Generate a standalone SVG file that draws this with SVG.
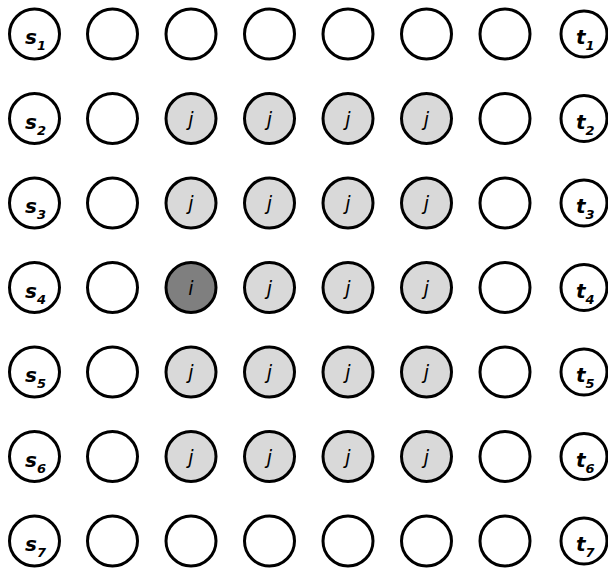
<svg xmlns="http://www.w3.org/2000/svg" width="608" height="568" viewBox="0 0 608 568">
<style>
.n{stroke:#000;stroke-width:3;fill:#fff}
.j{fill:#d9d9d9}
.i{fill:#7f7f7f}
.lb{font-family:"DejaVu Sans",Verdana,sans-serif;font-weight:bold;font-style:italic;font-size:20px;fill:#000}
.sub{font-size:13px}
.lj{font-family:"DejaVu Sans",Verdana,sans-serif;font-style:italic;font-size:19px;fill:#000;text-anchor:middle}
</style>
<rect width="608" height="568" fill="#fff"/>
<g id="connectors"/>
<!-- row 1 -->
<g id="s1"><circle class="n" cx="34.5" cy="34" r="25"/><text class="lb" x="25" y="44">s<tspan class="sub" dy="6">1</tspan></text></g>
<g id="n1_1"><circle class="n" cx="112.5" cy="34" r="25"/></g>
<g id="n1_2"><circle class="n" cx="191" cy="34" r="25"/></g>
<g id="n1_3"><circle class="n" cx="269.5" cy="34" r="25"/></g>
<g id="n1_4"><circle class="n" cx="348" cy="34" r="25"/></g>
<g id="n1_5"><circle class="n" cx="426.5" cy="34" r="25"/></g>
<g id="n1_6"><circle class="n" cx="505" cy="34" r="25"/></g>
<g id="t1"><circle class="n" cx="584" cy="34" r="23"/><text class="lb" x="576" y="44">t<tspan class="sub" dy="6">1</tspan></text></g>
<!-- row 2 -->
<g id="s2"><circle class="n" cx="34.5" cy="118.5" r="25"/><text class="lb" x="25" y="128.5">s<tspan class="sub" dy="6">2</tspan></text></g>
<g id="n2_1"><circle class="n" cx="112.5" cy="118.5" r="25"/></g>
<g id="n2_2"><circle class="n j" cx="191" cy="118.5" r="25"/><text class="lj" x="191" y="125.5">j</text></g>
<g id="n2_3"><circle class="n j" cx="269.5" cy="118.5" r="25"/><text class="lj" x="269.5" y="125.5">j</text></g>
<g id="n2_4"><circle class="n j" cx="348" cy="118.5" r="25"/><text class="lj" x="348" y="125.5">j</text></g>
<g id="n2_5"><circle class="n j" cx="426.5" cy="118.5" r="25"/><text class="lj" x="426.5" y="125.5">j</text></g>
<g id="n2_6"><circle class="n" cx="505" cy="118.5" r="25"/></g>
<g id="t2"><circle class="n" cx="584" cy="118.5" r="23"/><text class="lb" x="576" y="128.5">t<tspan class="sub" dy="6">2</tspan></text></g>
<!-- row 3 -->
<g id="s3"><circle class="n" cx="34.5" cy="203" r="25"/><text class="lb" x="25" y="213">s<tspan class="sub" dy="6">3</tspan></text></g>
<g id="n3_1"><circle class="n" cx="112.5" cy="203" r="25"/></g>
<g id="n3_2"><circle class="n j" cx="191" cy="203" r="25"/><text class="lj" x="191" y="210">j</text></g>
<g id="n3_3"><circle class="n j" cx="269.5" cy="203" r="25"/><text class="lj" x="269.5" y="210">j</text></g>
<g id="n3_4"><circle class="n j" cx="348" cy="203" r="25"/><text class="lj" x="348" y="210">j</text></g>
<g id="n3_5"><circle class="n j" cx="426.5" cy="203" r="25"/><text class="lj" x="426.5" y="210">j</text></g>
<g id="n3_6"><circle class="n" cx="505" cy="203" r="25"/></g>
<g id="t3"><circle class="n" cx="584" cy="203" r="23"/><text class="lb" x="576" y="213">t<tspan class="sub" dy="6">3</tspan></text></g>
<!-- row 4 -->
<g id="s4"><circle class="n" cx="34.5" cy="287.5" r="25"/><text class="lb" x="25" y="297.5">s<tspan class="sub" dy="6">4</tspan></text></g>
<g id="n4_1"><circle class="n" cx="112.5" cy="287.5" r="25"/></g>
<g id="n4_2"><circle class="n i" cx="191" cy="287.5" r="25"/><text class="lj" x="191" y="294.5">i</text></g>
<g id="n4_3"><circle class="n j" cx="269.5" cy="287.5" r="25"/><text class="lj" x="269.5" y="294.5">j</text></g>
<g id="n4_4"><circle class="n j" cx="348" cy="287.5" r="25"/><text class="lj" x="348" y="294.5">j</text></g>
<g id="n4_5"><circle class="n j" cx="426.5" cy="287.5" r="25"/><text class="lj" x="426.5" y="294.5">j</text></g>
<g id="n4_6"><circle class="n" cx="505" cy="287.5" r="25"/></g>
<g id="t4"><circle class="n" cx="584" cy="287.5" r="23"/><text class="lb" x="576" y="297.5">t<tspan class="sub" dy="6">4</tspan></text></g>
<!-- row 5 -->
<g id="s5"><circle class="n" cx="34.5" cy="372" r="25"/><text class="lb" x="25" y="382">s<tspan class="sub" dy="6">5</tspan></text></g>
<g id="n5_1"><circle class="n" cx="112.5" cy="372" r="25"/></g>
<g id="n5_2"><circle class="n j" cx="191" cy="372" r="25"/><text class="lj" x="191" y="379">j</text></g>
<g id="n5_3"><circle class="n j" cx="269.5" cy="372" r="25"/><text class="lj" x="269.5" y="379">j</text></g>
<g id="n5_4"><circle class="n j" cx="348" cy="372" r="25"/><text class="lj" x="348" y="379">j</text></g>
<g id="n5_5"><circle class="n j" cx="426.5" cy="372" r="25"/><text class="lj" x="426.5" y="379">j</text></g>
<g id="n5_6"><circle class="n" cx="505" cy="372" r="25"/></g>
<g id="t5"><circle class="n" cx="584" cy="372" r="23"/><text class="lb" x="576" y="382">t<tspan class="sub" dy="6">5</tspan></text></g>
<!-- row 6 -->
<g id="s6"><circle class="n" cx="34.5" cy="456.5" r="25"/><text class="lb" x="25" y="466.5">s<tspan class="sub" dy="6">6</tspan></text></g>
<g id="n6_1"><circle class="n" cx="112.5" cy="456.5" r="25"/></g>
<g id="n6_2"><circle class="n j" cx="191" cy="456.5" r="25"/><text class="lj" x="191" y="463.5">j</text></g>
<g id="n6_3"><circle class="n j" cx="269.5" cy="456.5" r="25"/><text class="lj" x="269.5" y="463.5">j</text></g>
<g id="n6_4"><circle class="n j" cx="348" cy="456.5" r="25"/><text class="lj" x="348" y="463.5">j</text></g>
<g id="n6_5"><circle class="n j" cx="426.5" cy="456.5" r="25"/><text class="lj" x="426.5" y="463.5">j</text></g>
<g id="n6_6"><circle class="n" cx="505" cy="456.5" r="25"/></g>
<g id="t6"><circle class="n" cx="584" cy="456.5" r="23"/><text class="lb" x="576" y="466.5">t<tspan class="sub" dy="6">6</tspan></text></g>
<!-- row 7 -->
<g id="s7"><circle class="n" cx="34.5" cy="541" r="25"/><text class="lb" x="25" y="551">s<tspan class="sub" dy="6">7</tspan></text></g>
<g id="n7_1"><circle class="n" cx="112.5" cy="541" r="25"/></g>
<g id="n7_2"><circle class="n" cx="191" cy="541" r="25"/></g>
<g id="n7_3"><circle class="n" cx="269.5" cy="541" r="25"/></g>
<g id="n7_4"><circle class="n" cx="348" cy="541" r="25"/></g>
<g id="n7_5"><circle class="n" cx="426.5" cy="541" r="25"/></g>
<g id="n7_6"><circle class="n" cx="505" cy="541" r="25"/></g>
<g id="t7"><circle class="n" cx="584" cy="541" r="23"/><text class="lb" x="576" y="551">t<tspan class="sub" dy="6">7</tspan></text></g>
</svg>
